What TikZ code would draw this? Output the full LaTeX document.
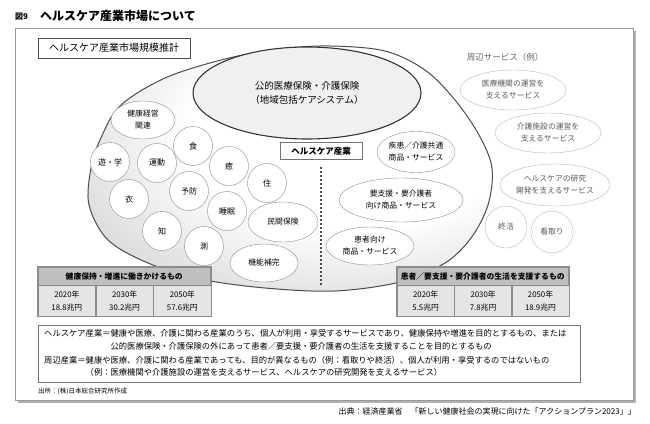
\documentclass[tikz,border=0pt]{standalone}
\usepackage{fontspec}
\setmainfont{Noto Sans CJK JP}
\usetikzlibrary{shapes.geometric,positioning}
\colorlet{eggmid}{black!18}
\colorlet{eggrim}{black!48}
\pgfdeclareradialshading{eggshade}{\pgfpoint{10bp}{10bp}}{color(0bp)=(white); color(20bp)=(white); color(40bp)=(eggmid); color(62bp)=(eggrim); color(90bp)=(eggrim)}

\begin{document}
\begin{tikzpicture}[x=1pt,y=-1pt,
  bub/.style={circle,draw=black!45,fill=white,minimum size=39pt,inner sep=0pt,font=\fontsize{8}{11}\selectfont},
  oval/.style={ellipse,draw=black!45,fill=white,inner sep=0pt,align=center,font=\fontsize{7.8}{12}\selectfont},
  side/.style={oval,draw=black!28,text=black!65},
  hd/.style={draw=black!45,fill=black!25,minimum height=18pt,inner sep=0pt,font=\bfseries\fontsize{7.8}{9}\selectfont},
  cell/.style={draw=black!45,fill=black!10,minimum height=31pt,inner sep=0pt,align=center,font=\fontsize{7.8}{13}\selectfont},
  txt/.style={anchor=base west,inner sep=0pt,font=\fontsize{8.3}{10}\selectfont}]
\useasboundingbox (0,0) rectangle (650,423);
\fill[white] (0,0) rectangle (650,423);

\node[anchor=base west,inner sep=0pt,font=\bfseries\fontsize{8}{8}\selectfont] (F) at (15,19) {図9};
\node[anchor=base west,inner sep=0pt,font=\bfseries\fontsize{12}{12}\selectfont] (T) at (40,20) {ヘルスケア産業市場について};

\fill[black!30] (18,31) rectangle (636,403);
\draw[black!40,fill=white,line width=0.6pt] (15,28) rectangle (633,400);

\node[draw=black!70,line width=0.8pt,fill=white,minimum width=152pt,minimum height=20pt,inner sep=0pt,font=\fontsize{10}{10}\selectfont] (MS) at (114,48) {ヘルスケア産業市場規模推計};

\shadedraw[shading=eggshade,draw=black!70,line width=1pt] plot[smooth cycle,tension=0.55] coordinates {
  (330,46) (385,51) (425,70) (455,100) (479,135) (492,168) (488,205) (471,238)
  (445,263) (400,282) (335,291) (265,288) (200,279) (148,263) (108,240) (89,205)
  (91,168) (100,140) (120,106) (165,78) (225,59) (280,49)};

\node[ellipse,draw=black!80,line width=1.1pt,fill=black!6,minimum width=228pt,minimum height=92pt,inner sep=0pt,align=center,font=\fontsize{9.5}{14}\selectfont] (P) at (307,93) {公的医療保険・介護保険\\（地域包括ケアシステム）};

\node[oval,minimum width=64pt,minimum height=38pt] (KK) at (143,120) {健康経営\\関連};
\node[bub] (A) at (110,162) {遊・学};
\node[bub] (B) at (157,163) {運動};
\node[bub] (C) at (129,199) {衣};
\node[bub] (D) at (193,146) {食};
\node[bub] (E) at (229,166) {癒};
\node[bub] (G) at (189,191) {予防};
\node[bub] (H) at (267,183) {住};
\node[bub] (I) at (227,211) {睡眠};
\node[bub] (J) at (162,231) {知};
\node[bub] (K) at (204,246) {測};
\node[oval,minimum width=70pt,minimum height=40pt] (MH) at (283,222) {民間保険};
\node[oval,minimum width=68pt,minimum height=38pt] (KN) at (264,263) {機能補完};

\node[draw=black!55,fill=white,line width=0.8pt,minimum width=82pt,minimum height=17pt,inner sep=0pt,font=\bfseries\fontsize{8.5}{9}\selectfont] (HI) at (321,151) {ヘルスケア産業};
\coordinate (DE) at (321,285);
\draw[black!70,line width=1.3pt,dash pattern=on 2.2pt off 1.8pt] ([yshift=-7pt]HI.south) -- (DE);

\node[oval,minimum width=78pt,minimum height=41pt] (SK) at (416,152) {疾患／介護共通\\商品・サービス};
\node[oval,minimum width=124pt,minimum height=44pt] (YS) at (401,200) {要支援・要介護者\\向け商品・サービス};
\node[oval,minimum width=88pt,minimum height=38pt] (KM) at (370,246) {患者向け\\商品・サービス};

\node[anchor=base,inner sep=0pt,font=\fontsize{8.5}{9}\selectfont,text=black!60] (PS) at (505,60) {周辺サービス（例）};
\node[side,minimum width=106pt,minimum height=40pt] (S1) at (513,90) {医療機関の運営を\\支えるサービス};
\node[side,minimum width=106pt,minimum height=40pt] (S2) at (548,133) {介護施設の運営を\\支えるサービス};
\node[side,minimum width=104pt,minimum height=42pt] (S3) at (555,185) {ヘルスケアの研究\\開発を支えるサービス};
\node[side,circle,minimum size=42pt] (S4) at (506,227) {終活};
\node[side,circle,minimum size=42pt] (S5) at (552,232) {看取り};

\node[hd,minimum width=172pt,anchor=north west] (H1) at (38,267) {健康保持・増進に働きかけるもの};
\node[cell,minimum width=57.33pt,anchor=north west] (X1) at (H1.south west) {2020年\\18.8兆円};
\node[cell,minimum width=57.33pt,right=0pt of X1] (X2) {2030年\\30.2兆円};
\node[cell,minimum width=57.33pt,right=0pt of X2] (X3) {2050年\\57.6兆円};
\draw[black!45,line width=1.2pt] (H1.north west) rectangle (X3.south east);

\node[hd,minimum width=171pt,anchor=north west] (H2) at (397,267) {患者／要支援・要介護者の生活を支援するもの};
\node[cell,minimum width=57pt,anchor=north west] (Y1) at (H2.south west) {2020年\\5.5兆円};
\node[cell,minimum width=57pt,right=0pt of Y1] (Y2) {2030年\\7.8兆円};
\node[cell,minimum width=57pt,right=0pt of Y2] (Y3) {2050年\\18.9兆円};
\draw[black!45,line width=1.2pt] (H2.north west) rectangle (Y3.south east);

\node[draw=black!55,line width=0.8pt,minimum width=542pt,minimum height=57pt,inner sep=0pt,anchor=north west] (DF) at (38,325) {};
\node[txt] (L1) at (44,336) {ヘルスケア産業＝健康や医療、介護に関わる産業のうち、個人が利用・享受するサービスであり、健康保持や増進を目的とするもの、または};
\node[txt] (L2) at (110.4,349) {公的医療保険・介護保険の外にあって患者／要支援・要介護者の生活を支援することを目的とするもの};
\node[txt] (L3) at (44,363) {周辺産業＝健康や医療、介護に関わる産業であっても、目的が異なるもの（例：看取りや終活）、個人が利用・享受するのではないもの};
\node[txt] (L4) at (85.5,375) {（例：医療機関や介護施設の運営を支えるサービス、ヘルスケアの研究開発を支えるサービス）};

\node[anchor=base west,inner sep=0pt,font=\fontsize{6.5}{7}\selectfont] (SRC) at (38,393) {出所：(株)日本総合研究所作成};
\node[anchor=base east,inner sep=0pt,font=\fontsize{8}{9}\selectfont] (CIT) at (636,414) {出典：経済産業省　「新しい健康社会の実現に向けた「アクションプラン2023」」};
\end{tikzpicture}
\end{document}
